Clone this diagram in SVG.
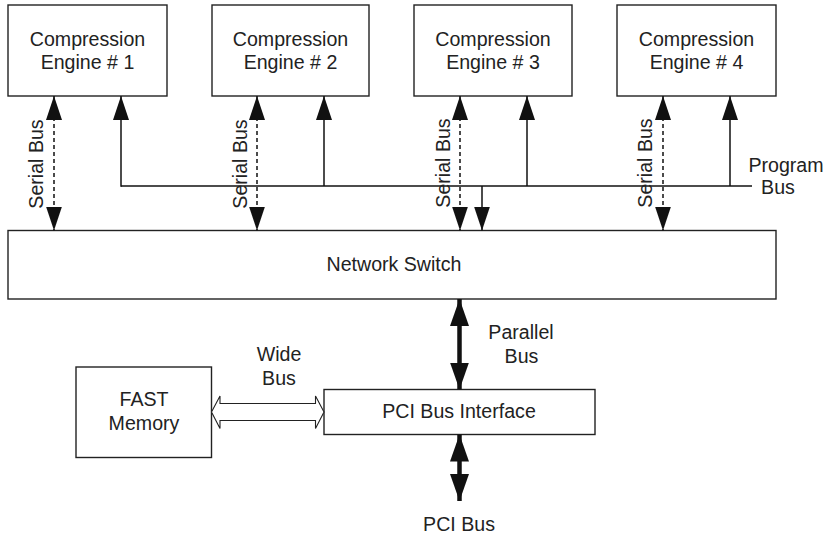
<svg xmlns="http://www.w3.org/2000/svg" width="827" height="538" viewBox="0 0 827 538">
  <defs>
    <style>
      .box { fill: #ffffff; stroke: #222222; stroke-width: 1.4; }
      .t { font-family: "Liberation Sans", Arial, Helvetica, sans-serif; fill: #222222; text-anchor: middle; font-size: 19.6px; }
      .wire { fill: none; stroke: #111111; stroke-width: 1.5; }
      .dash { fill: none; stroke: #111111; stroke-width: 1.5; stroke-dasharray: 4 3; }
      .thick { fill: none; stroke: #111111; stroke-width: 4.5; }
    </style>
    <marker id="head" viewBox="0 0 24 16" refX="24" refY="8" markerWidth="24" markerHeight="16" markerUnits="userSpaceOnUse" orient="auto-start-reverse">
      <path d="M0,0 L24,8 L0,16 Z" fill="#111111"/>
    </marker>
    <marker id="headBig" viewBox="0 0 27 19" refX="27" refY="9.5" markerWidth="27" markerHeight="19" markerUnits="userSpaceOnUse" orient="auto-start-reverse">
      <path d="M0,0 L27,9.5 L0,19 Z" fill="#111111"/>
    </marker>
  </defs>

  <!-- compression engines -->
  <g id="engine1">
    <rect class="box" x="8" y="5" width="159" height="91"/>
    <text class="t" x="87.5" y="46">Compression</text>
    <text class="t" x="87.5" y="69">Engine # 1</text>
  </g>
  <g id="engine2">
    <rect class="box" x="212" y="5" width="157" height="91"/>
    <text class="t" x="290.5" y="46">Compression</text>
    <text class="t" x="290.5" y="69">Engine # 2</text>
  </g>
  <g id="engine3">
    <rect class="box" x="414" y="5" width="158" height="91"/>
    <text class="t" x="493" y="46">Compression</text>
    <text class="t" x="493" y="69">Engine # 3</text>
  </g>
  <g id="engine4">
    <rect class="box" x="617" y="5" width="159" height="91"/>
    <text class="t" x="696.5" y="46">Compression</text>
    <text class="t" x="696.5" y="69">Engine # 4</text>
  </g>

  <!-- central switch -->
  <g id="network-switch">
    <rect class="box" x="8" y="230.5" width="768" height="68.5"/>
    <text class="t" x="394" y="271">Network Switch</text>
  </g>

  <g id="fast-memory">
    <rect class="box" x="76" y="367" width="135.5" height="90.5"/>
    <text class="t" x="144" y="406">FAST</text>
    <text class="t" x="144" y="429.5">Memory</text>
  </g>

  <g id="pci-interface">
    <rect class="box" x="324" y="389.5" width="271" height="45"/>
    <text class="t" x="459" y="418">PCI Bus Interface</text>
  </g>

  <!-- buses -->
  <g id="connectors">
    <!-- serial buses, bidirectional, dashed -->
    <line class="dash" x1="54" y1="96" x2="54" y2="230.5" marker-start="url(#head)" marker-end="url(#head)"/>
    <line class="dash" x1="257" y1="96" x2="257" y2="230.5" marker-start="url(#head)" marker-end="url(#head)"/>
    <line class="dash" x1="460" y1="96" x2="460" y2="230.5" marker-start="url(#head)" marker-end="url(#head)"/>
    <line class="dash" x1="663" y1="96" x2="663" y2="230.5" marker-start="url(#head)" marker-end="url(#head)"/>

    <!-- program bus -->
    <line class="wire" x1="121" y1="186" x2="752" y2="186"/>
    <line class="wire" x1="121" y1="186.75" x2="121" y2="96" marker-end="url(#head)"/>
    <line class="wire" x1="324" y1="186" x2="324" y2="96" marker-end="url(#head)"/>
    <line class="wire" x1="527" y1="186" x2="527" y2="96" marker-end="url(#head)"/>
    <line class="wire" x1="730" y1="186" x2="730" y2="96" marker-end="url(#head)"/>
    <line class="wire" x1="482" y1="186" x2="482" y2="230.5" marker-end="url(#head)"/>

    <!-- parallel bus and PCI bus -->
    <line class="thick" x1="459.5" y1="299" x2="459.5" y2="389.5" marker-start="url(#headBig)" marker-end="url(#headBig)"/>
    <line class="thick" x1="459.5" y1="434.5" x2="459.5" y2="501" marker-start="url(#headBig)" marker-end="url(#headBig)"/>

    <!-- wide bus: hollow double arrow -->
    <polygon points="211.5,412 220,396 220,403.5 315.5,403.5 315.5,396 324,412 315.5,428.5 315.5,420.5 220,420.5 220,428.5" fill="#ffffff" stroke="#222222" stroke-width="1.1" stroke-linejoin="miter"/>
  </g>

  <!-- bus labels -->
  <g id="labels">
    <text class="t" transform="translate(43,164) rotate(-90)">Serial Bus</text>
    <text class="t" transform="translate(247,164) rotate(-90)">Serial Bus</text>
    <text class="t" transform="translate(450,163) rotate(-90)">Serial Bus</text>
    <text class="t" transform="translate(652,163) rotate(-90)">Serial Bus</text>
    <text class="t" x="786" y="172">Program</text>
    <text class="t" x="778" y="194">Bus</text>
    <text class="t" x="279" y="361">Wide</text>
    <text class="t" x="279" y="384.5">Bus</text>
    <text class="t" x="521" y="338.5">Parallel</text>
    <text class="t" x="521.5" y="363">Bus</text>
    <text class="t" x="459" y="531">PCI Bus</text>
  </g>
</svg>
